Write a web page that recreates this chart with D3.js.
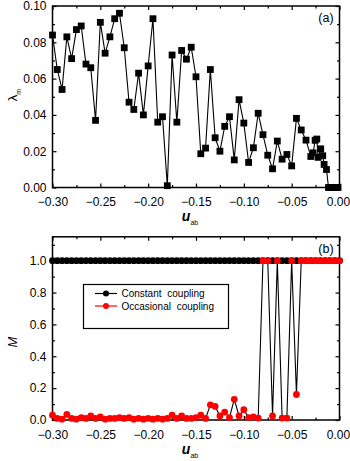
<!DOCTYPE html>
<html>
<head>
<meta charset="utf-8">
<script src="https://cdn.jsdelivr.net/npm/d3@7"></script>
<style>
  html, body { margin: 0; padding: 0; background: #fff; }
  svg { display: block; font-family: "Liberation Sans", Arial, sans-serif; }
</style>
</head>
<body>
<svg id="chart" width="350" height="461"></svg>
<script>
// ---- Panel (a): lambda_m versus u_ab ----
const uabA = [
  -0.300, -0.295, -0.290, -0.285, -0.280, -0.275, -0.270, -0.265, -0.260, -0.255,
  -0.250, -0.245, -0.240, -0.235, -0.230, -0.225, -0.220, -0.215, -0.210, -0.205,
  -0.200, -0.195, -0.190, -0.185, -0.180, -0.175, -0.170, -0.165, -0.160, -0.155,
  -0.150, -0.145, -0.140, -0.135, -0.130, -0.125, -0.120, -0.115, -0.110, -0.105,
  -0.100, -0.095, -0.090, -0.085, -0.080, -0.075, -0.070, -0.065, -0.060, -0.055,
  -0.050, -0.045, -0.040, -0.035, -0.030, -0.0275, -0.0255, -0.0237, -0.0224, -0.0196,
  -0.0175, -0.0161, -0.0136, -0.0115, -0.0090, -0.0065, -0.0040, -0.0015
];
const lambdaM = [
  0.084, 0.065, 0.054, 0.083, 0.071, 0.087, 0.089, 0.068, 0.066, 0.037,
  0.091, 0.074, 0.083, 0.093, 0.096, 0.077, 0.047, 0.043, 0.063, 0.040,
  0.067, 0.093, 0.036, 0.039, 0.001, 0.073, 0.036, 0.0755, 0.0707, 0.0773,
  0.061, 0.0186, 0.0217, 0.065, 0.0274, 0.020, 0.0337, 0.039, 0.0152, 0.0484,
  0.0355, 0.0138, 0.0219, 0.0409, 0.0291, 0.0178, 0.0103, 0.0256, 0.0156, 0.0182,
  0.0119, 0.0381, 0.0317, 0.0261, 0.0171, 0.0191, 0.0260, 0.0267, 0.0166, 0.0213,
  0.0175, 0.0127, 0.0099, 0, 0, 0, 0, 0
];

// ---- Panel (b): M versus u_ab for two coupling schemes ----
const uabB = [
  -0.300, -0.295, -0.290, -0.285, -0.280, -0.275, -0.270, -0.265, -0.260, -0.255,
  -0.250, -0.245, -0.240, -0.235, -0.230, -0.225, -0.220, -0.215, -0.210, -0.205,
  -0.200, -0.195, -0.190, -0.185, -0.180, -0.175, -0.170, -0.165, -0.160, -0.155,
  -0.150, -0.145, -0.140, -0.135, -0.130, -0.125, -0.120, -0.115, -0.110, -0.105,
  -0.100, -0.095, -0.090, -0.085, -0.080, -0.075, -0.070, -0.065, -0.060, -0.055,
  -0.050, -0.045, -0.040, -0.035, -0.030, -0.025, -0.020, -0.015, -0.010, -0.005,
  0.000
];
const constantM = uabB.map(() => 1.0);
const occasionalM = [
  0.030, 0.010, 0.005, 0.035, 0.010, 0.005, 0.015, 0.010, 0.025, 0.010,
  0.020, 0.005, 0.010, 0.010, 0.015, 0.010, 0.015, 0.005, 0.010, 0.005,
  0.010, 0.005, 0.010, 0.005, 0.010, 0.030, 0.010, 0.025, 0.010, 0.010,
  0.015, 0.030, 0.010, 0.095, 0.085, 0.025, 0.050, 0.015, 0.130, 0.025,
  0.065, 0.015, 0.020, 0.012, 1.0, 1.0, 0.025, 1.0, 0.012, 0.012,
  1.0, 0.160, 1.0, 1.0, 1.0, 1.0, 1.0, 1.0, 1.0, 1.0,
  1.0
];

const seriesNames = ["Constant coupling", "Occasional coupling"];
const seriesColors = ["#000000", "#ff0000"];

const xMajor = [-0.30, -0.25, -0.20, -0.15, -0.10, -0.05, 0.00];
const xMinor = [-0.275, -0.225, -0.175, -0.125, -0.075, -0.025];
const yMajorA = [0.00, 0.02, 0.04, 0.06, 0.08, 0.10];
const yMinorA = [0.01, 0.03, 0.05, 0.07, 0.09];
const yMajorB = [0.0, 0.2, 0.4, 0.6, 0.8, 1.0];
const yMinorB = [0.1, 0.3, 0.5, 0.7, 0.9, 1.1];

const svg = d3.select("#chart");
const left = 52.5, right = 339.5;

const x = d3.scaleLinear().domain([-0.30, 0]).range([left, right]);
const yA = d3.scaleLinear().domain([0, 0.10]).range([187.5, 6]);
const yB = d3.scaleLinear().domain([0, 1.15]).range([420, 236.8]);

function frame(y, yMaj, yMin, yFmt, tag) {
  const [y0, y1] = y.range();
  const g = svg.append("g");
  const major = 4, minor = 2.5;
  // bottom axis with labels
  g.append("g").attr("transform", `translate(0,${y0})`)
    .call(d3.axisBottom(x).tickValues(xMajor).tickFormat(d3.format(".2f"))
      .tickSizeInner(-major).tickSizeOuter(0).tickPadding(10))
    .selectAll(".tick text").attr("dx", d => d === 0 ? -1.5 : 0);
  g.append("g").attr("transform", `translate(0,${y0})`)
    .call(d3.axisBottom(x).tickValues(xMinor).tickFormat("").tickSizeInner(-minor).tickSizeOuter(0));
  // top mirror
  g.append("g").attr("transform", `translate(0,${y1})`)
    .call(d3.axisTop(x).tickValues(xMajor).tickFormat("").tickSizeInner(-major).tickSizeOuter(0));
  g.append("g").attr("transform", `translate(0,${y1})`)
    .call(d3.axisTop(x).tickValues(xMinor).tickFormat("").tickSizeInner(-minor).tickSizeOuter(0));
  // left axis with labels
  g.append("g").attr("transform", `translate(${left},0)`)
    .call(d3.axisLeft(y).tickValues(yMaj).tickFormat(yFmt)
      .tickSizeInner(-major).tickSizeOuter(0).tickPadding(6));
  g.append("g").attr("transform", `translate(${left},0)`)
    .call(d3.axisLeft(y).tickValues(yMin).tickFormat("").tickSizeInner(-minor).tickSizeOuter(0));
  // right mirror
  g.append("g").attr("transform", `translate(${right},0)`)
    .call(d3.axisRight(y).tickValues(yMaj).tickFormat("").tickSizeInner(-major).tickSizeOuter(0));
  g.append("g").attr("transform", `translate(${right},0)`)
    .call(d3.axisRight(y).tickValues(yMin).tickFormat("").tickSizeInner(-minor).tickSizeOuter(0));

  g.selectAll(".domain").remove();
  g.selectAll(".tick line").attr("stroke", "#000").attr("stroke-width", 1.2);
  g.selectAll(".tick text").attr("font-size", 12).attr("fill", "#000")
    .attr("font-family", "Liberation Sans, Arial, sans-serif");

  g.append("rect").attr("x", left).attr("y", y1)
    .attr("width", right - left).attr("height", y0 - y1)
    .attr("fill", "none").attr("stroke", "#000").attr("stroke-width", 1.5);

  g.append("text").attr("x", 326).attr("y", y1 + 12)
    .attr("text-anchor", "middle").attr("dominant-baseline", "central")
    .attr("font-size", 12.5).text(tag);

  // x-axis title u_ab
  const t = svg.append("text").attr("x", 190).attr("y", y0 + 33.5)
    .attr("text-anchor", "middle");
  t.append("tspan").attr("font-style", "italic").attr("font-weight", "bold")
    .attr("font-size", 14).text("u");
  t.append("tspan").attr("font-size", 7).attr("dy", 4).text("ab");
}

// ----- Panel (a) -----
frame(yA, yMajorA, yMinorA, d3.format(".2f"), "(a)");

const ptsA = uabA.map((u, i) => [u, lambdaM[i]]);
svg.append("path").datum(ptsA)
  .attr("fill", "none").attr("stroke", "#000").attr("stroke-width", 1.1)
  .attr("d", d3.line().x(d => x(d[0])).y(d => yA(d[1])));
svg.append("g").selectAll("rect").data(ptsA).join("rect")
  .attr("x", d => x(d[0]) - 3.4).attr("y", d => yA(d[1]) - 3.4)
  .attr("width", 6.8).attr("height", 6.8).attr("fill", "#000");

const la = svg.append("text").attr("transform", "translate(17,95) rotate(-90)")
  .attr("text-anchor", "middle");
la.append("tspan").attr("font-size", 13).text("λ");
la.append("tspan").attr("font-size", 7).attr("dy", 4).text("m");

// ----- Panel (b) -----
frame(yB, yMajorB, yMinorB, d3.format(".1f"), "(b)");

const lineB = d3.line().x(d => x(d[0])).y(d => yB(d[1]));
const ptsConst = uabB.map((u, i) => [u, constantM[i]]);
const ptsOcc = uabB.map((u, i) => [u, occasionalM[i]]);

svg.append("path").datum(ptsConst).attr("fill", "none")
  .attr("stroke", "#000").attr("stroke-width", 1.1).attr("d", lineB);
svg.append("g").selectAll("circle").data(ptsConst).join("circle")
  .attr("cx", d => x(d[0])).attr("cy", d => yB(d[1])).attr("r", 3.4)
  .attr("fill", seriesColors[0]);

svg.append("path").datum(ptsOcc).attr("fill", "none")
  .attr("stroke", "#000").attr("stroke-width", 1.1).attr("d", lineB);
svg.append("g").selectAll("circle").data(ptsOcc).join("circle")
  .attr("cx", d => x(d[0])).attr("cy", d => yB(d[1])).attr("r", 3.4)
  .attr("fill", seriesColors[1]);

svg.append("text").attr("transform", "translate(17,342) rotate(-90)")
  .attr("text-anchor", "middle").attr("font-style", "italic")
  .attr("font-size", 13).text("M");

// legend
const lg = svg.append("g");
lg.append("rect").attr("x", 83.5).attr("y", 284.5).attr("width", 145).attr("height", 44)
  .attr("fill", "#fff").attr("stroke", "#000").attr("stroke-width", 1.2);
seriesNames.forEach((name, i) => {
  const cy = 293.5 + i * 12.5;
  lg.append("line").attr("x1", 95).attr("x2", 117).attr("y1", cy).attr("y2", cy)
    .attr("stroke", seriesColors[i]).attr("stroke-width", 1.2);
  lg.append("circle").attr("cx", 106).attr("cy", cy).attr("r", 3).attr("fill", seriesColors[i]);
  lg.append("text").attr("x", 121.5).attr("y", cy).attr("dominant-baseline", "central")
    .attr("font-size", 10).attr("word-spacing", 3).text(name);
});
</script>
</body>
</html>
